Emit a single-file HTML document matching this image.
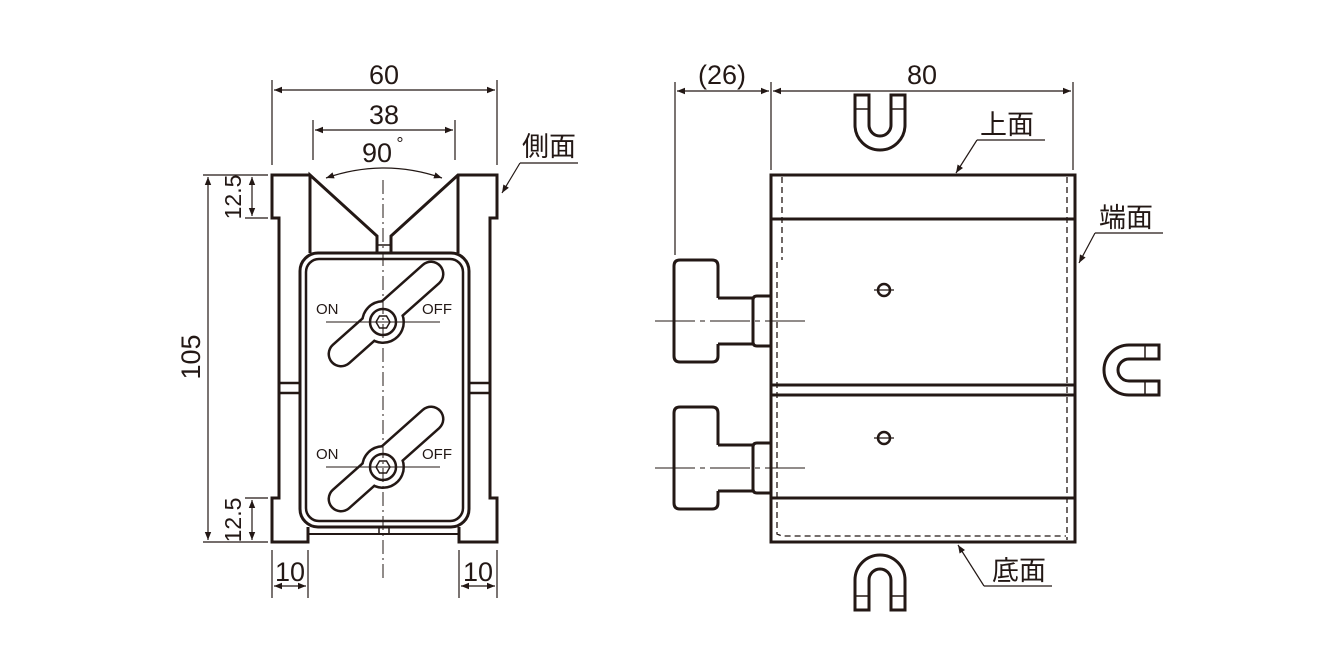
<!DOCTYPE html>
<html><head><meta charset="utf-8"><style>html,body{margin:0;padding:0;background:#fff}svg{display:block}text{font-family:"Liberation Sans","Noto Sans CJK JP",sans-serif;fill:#231815}</style></head>
<body>
<svg width="1320" height="660" viewBox="0 0 1320 660" xmlns="http://www.w3.org/2000/svg">
<defs>
<marker id="a" viewBox="0 0 10 10" refX="10" refY="5" markerWidth="12" markerHeight="8" orient="auto-start-reverse" markerUnits="userSpaceOnUse"><path d="M0,1 L10,5 L0,9 Z" fill="#231815"/></marker>
<g id="mag"><path d="M30,-25 L0,-25 A25,25 0 0 0 0,25 L30,25 L30,11 L0,11 A11,11 0 0 1 0,-11 L30,-11 Z" fill="none" stroke="#231815" stroke-width="3"/><path d="M16,-25 V-11 M16,11 V25" stroke="#231815" stroke-width="1.5"/></g>
<g id="wing">
<line x1="-42" y1="32" x2="48" y2="-48" stroke="#231815" stroke-width="27" stroke-linecap="round"/>
<circle r="22" fill="#231815"/>
<line x1="-42" y1="32" x2="48" y2="-48" stroke="#fff" stroke-width="22" stroke-linecap="round"/>
<circle r="19.5" fill="#fff"/>
<circle r="13" fill="none" stroke="#231815" stroke-width="2.5"/>
<polygon points="7,0 3.5,6 -3.5,6 -7,0 -3.5,-6 3.5,-6" fill="none" stroke="#231815" stroke-width="1.5"/>
<line x1="-57" y1="0" x2="57" y2="0" stroke="#231815" stroke-width="1"/>
</g>
<g id="knob" fill="none" stroke="#231815" stroke-width="3">
<path d="M718,298 V266 Q718,260 712,260 H680 Q674,260 674,266 V356 Q674,362 680,362 H712 Q718,362 718,356 V344"/>
<path d="M718,298 H753 V344 H718"/>
<path d="M771,296 H757 Q753,296 753,300 V342 Q753,346 757,346 H771"/>
</g>
</defs>
<g stroke="#231815" fill="none" stroke-width="3">
<path d="M310,175 H272 V218 H279 V498 H272 V542 H308 V527 M459,527 V542 H497 V498 H490 V218 H497 V175 H458 L391,236 V253 M377,253 V236 L310,175 V253"/>
<line x1="458" y1="175" x2="458" y2="253"/>
<rect x="300" y="253" width="169" height="274" rx="18"/>
<rect x="306" y="259" width="157" height="262" rx="13" stroke-width="2.5"/>
<path d="M308,534 H459" stroke-width="2"/>
<path d="M280,383 H300 M280,393 H300 M469,383 H490 M469,393 H490" stroke-width="2.5"/>
<path d="M377,245 H391 M379,527 V534 M389,527 V534" stroke-width="1.5"/>
</g>
<use href="#wing" transform="translate(383,322)"/>
<use href="#wing" transform="translate(383,467)"/>
<line x1="383" y1="180" x2="383" y2="580" stroke="#231815" stroke-width="1" stroke-dasharray="14,4,2,4"/>
<g font-size="15"><text x="316" y="314">ON</text><text x="422" y="314">OFF</text><text x="316" y="459">ON</text><text x="422" y="459">OFF</text></g>
<g stroke="#231815" stroke-width="1.2" fill="none">
<path d="M272,80 V165 M497,80 V165 M313,120 V160 M455,120 V160"/>
<line x1="274" y1="90" x2="495" y2="90" marker-start="url(#a)" marker-end="url(#a)"/>
<line x1="315" y1="130" x2="453" y2="130" marker-start="url(#a)" marker-end="url(#a)"/>
<path d="M326,178 Q384,158 442,178" marker-start="url(#a)" marker-end="url(#a)"/>
<path d="M203,175 H268 M245,218 H268 M245,498 H268 M203,542 H268"/>
<line x1="208" y1="177" x2="208" y2="540" marker-start="url(#a)" marker-end="url(#a)"/>
<line x1="252" y1="177" x2="252" y2="216" marker-start="url(#a)" marker-end="url(#a)"/>
<line x1="252" y1="500" x2="252" y2="540" marker-start="url(#a)" marker-end="url(#a)"/>
<path d="M272,550 V598 M308,550 V598 M459,550 V598 M497,550 V598"/>
<line x1="274" y1="586" x2="306" y2="586" marker-start="url(#a)" marker-end="url(#a)"/>
<line x1="461" y1="586" x2="495" y2="586" marker-start="url(#a)" marker-end="url(#a)"/>
<path d="M578,163 H520"/><line x1="520" y1="163" x2="502" y2="193" marker-end="url(#a)"/>
</g>
<g font-size="27" text-anchor="middle">
<text x="384" y="84">60</text><text x="384" y="124">38</text><text x="377" y="162">90</text><text x="400" y="150" font-size="18">°</text>
<text x="290" y="581">10</text><text x="478" y="581">10</text>
<text transform="translate(200,357) rotate(-90)">105</text>
<text transform="translate(241,197) rotate(-90)" font-size="23">12.5</text>
<text transform="translate(241,520) rotate(-90)" font-size="23">12.5</text>
<text x="549" y="156" font-size="27">側面</text>
</g>
<g stroke="#231815" fill="none" stroke-width="3">
<rect x="771" y="175" width="304" height="367"/>
<path d="M771,219 H1075 M771,385 H1075 M771,395 H1075 M771,498 H1075"/>
</g>
<g stroke="#231815" fill="none" stroke-width="1.3" stroke-dasharray="6,4">
<path d="M782,177 V260 M777,262 V534 L782,536 H1066 M1067,177 V540"/>
</g>
<use href="#knob"/>
<use href="#knob" transform="translate(0,147)"/>
<g stroke="#231815" stroke-width="1" stroke-dasharray="40,5,5,5"><path d="M655,321 H810 M655,468 H810"/></g>
<g stroke="#231815" fill="none"><circle cx="884" cy="290" r="6" stroke-width="2.5"/><circle cx="884" cy="438" r="6" stroke-width="2.5"/><path d="M874,290 H894 M874,438 H894" stroke-width="1.2"/></g>
<use href="#mag" transform="translate(880,125) rotate(-90)"/>
<use href="#mag" transform="translate(1129,370)"/>
<use href="#mag" transform="translate(880,580) rotate(90)"/>
<g stroke="#231815" stroke-width="1.2" fill="none">
<path d="M675,82 V255 M771,82 V170 M1073,82 V170"/>
<line x1="677" y1="91" x2="769" y2="91" marker-start="url(#a)" marker-end="url(#a)"/>
<line x1="773" y1="91" x2="1071" y2="91" marker-start="url(#a)" marker-end="url(#a)"/>
<path d="M1045,140 H977"/><line x1="977" y1="140" x2="956" y2="173" marker-end="url(#a)"/>
<path d="M1163,233 H1095"/><line x1="1095" y1="233" x2="1079" y2="263" marker-end="url(#a)"/>
<path d="M1052,586 H984"/><line x1="984" y1="586" x2="958" y2="545" marker-end="url(#a)"/>
</g>
<g font-size="27" text-anchor="middle">
<text x="722" y="84">(26)</text><text x="922" y="84">80</text>
<text x="1007" y="134">上面</text>
<text x="1126" y="227">端面</text>
<text x="1019" y="580">底面</text>
</g>
</svg>
</body></html>
